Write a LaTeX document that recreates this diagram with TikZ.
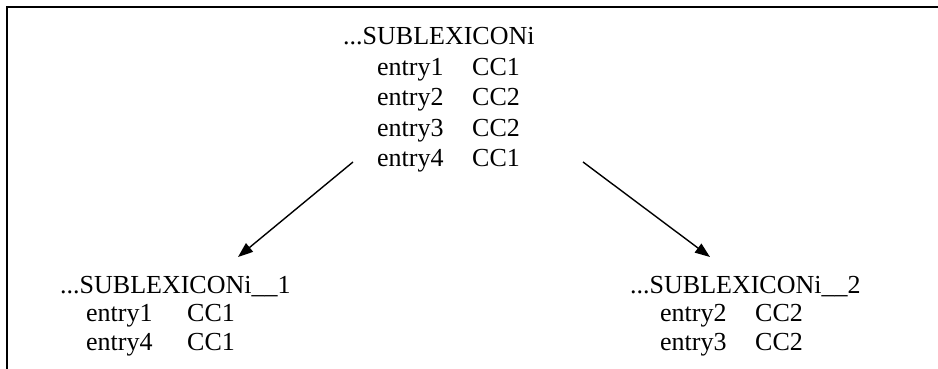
\documentclass[tikz,border=0pt]{standalone}
\usepackage{fontspec}
\setmainfont{Liberation Serif}
\usetikzlibrary{arrows.meta}
\begin{document}
\begin{tikzpicture}[x=1pt,y=-1pt,
  txt/.style={anchor=base west,inner sep=0pt,font=\fontsize{26}{30}\selectfont},
  frameline/.style={line width=2pt,black},
  conn/.style={line width=1.4pt,-{Triangle[length=15pt,width=11pt]}}]
\useasboundingbox (0,0) rectangle (938,369);
% frame lines
\coordinate (tl) at (7,7);
\coordinate (tr) at (938,7);
\coordinate (bl) at (7,369);
\draw[frameline] (bl) -- (tl) -- (tr);
% top group
\node[txt] (t0) at (343,45) {...SUBLEXICONi};
\node[txt] (t1a) at (377,76) {entry1};
\node[txt] (t1b) at (472,76) {CC1};
\node[txt] (t2a) at (377,106) {entry2};
\node[txt] (t2b) at (472,106) {CC2};
\node[txt] (t3a) at (377,136) {entry3};
\node[txt] (t3b) at (472,136) {CC2};
\node[txt] (t4a) at (377,166) {entry4};
\node[txt] (t4b) at (472,166) {CC1};
% bottom left group
\node[txt] (l0) at (60,293) {...SUBLEXICONi\_\_1};
\node[txt] (l1a) at (86,321) {entry1};
\node[txt] (l1b) at (187,321) {CC1};
\node[txt] (l2a) at (86,350) {entry4};
\node[txt] (l2b) at (187,350) {CC1};
% bottom right group
\node[txt] (r0) at (630,293) {...SUBLEXICONi\_\_2};
\node[txt] (r1a) at (660,321) {entry2};
\node[txt] (r1b) at (755,321) {CC2};
\node[txt] (r2a) at (660,350) {entry3};
\node[txt] (r2b) at (755,350) {CC2};
% arrows
\coordinate (as) at (353,162);
\coordinate (ae) at (238,257);
\coordinate (bs) at (583,162);
\coordinate (be) at (710,257);
\draw[conn] (as) -- (ae);
\draw[conn] (bs) -- (be);
\end{tikzpicture}
\end{document}
